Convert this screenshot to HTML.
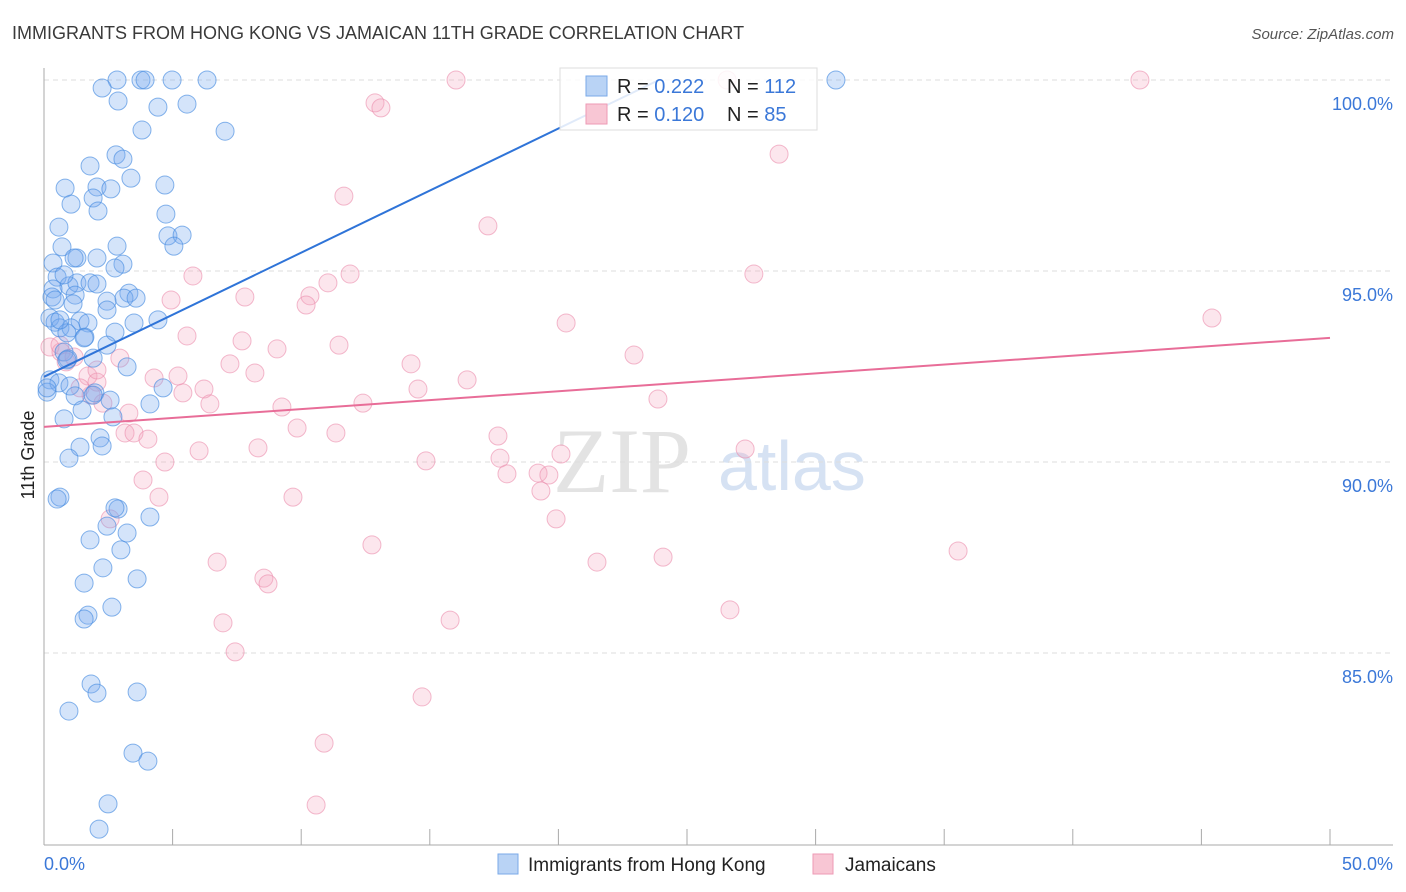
<!DOCTYPE html>
<html><head><meta charset="utf-8">
<style>
body{margin:0;background:#fff;font-family:"Liberation Sans",sans-serif;}
svg{display:block}
</style></head>
<body>
<svg id="chart" width="1406" height="892" viewBox="0 0 1406 892" xmlns="http://www.w3.org/2000/svg">
<text x="12" y="39" font-size="18" fill="#3a3a3a" font-family="Liberation Sans, sans-serif">IMMIGRANTS FROM HONG KONG VS JAMAICAN 11TH GRADE CORRELATION CHART</text>
<text x="1394" y="39" font-size="15" fill="#555" font-style="italic" text-anchor="end">Source: ZipAtlas.com</text>
<text x="553" y="492" font-size="92" fill="#d8d8d8" font-family="Liberation Serif, serif" opacity="0.7">ZIP</text>
<text x="718" y="490" font-size="70" fill="#c5d6ef" opacity="0.7">atlas</text>
<g id="grid"></g>
<g id="axes"></g>
<g id="pinkPts"></g>
<g id="bluePts"></g>
<g id="lines"></g>
<text transform="translate(34,455) rotate(-90)" font-size="18" fill="#222" text-anchor="middle">11th Grade</text>
<g>
<rect x="560" y="68" width="257" height="62" fill="#fff" fill-opacity="0.85" stroke="#ddd"/>
<rect x="586" y="76" width="21" height="20" fill="#b9d3f5" stroke="#7aa9e8"/>
<rect x="586" y="104" width="21" height="20" fill="#f8c6d4" stroke="#ee9ab5"/>
<text x="617" y="93" font-size="20" fill="#222">R = <tspan fill="#3b78d8">0.222</tspan></text>
<text x="727" y="93" font-size="20" fill="#222">N = <tspan fill="#3b78d8">112</tspan></text>
<text x="617" y="121" font-size="20" fill="#222">R = <tspan fill="#3b78d8"> 0.120</tspan></text>
<text x="727" y="121" font-size="20" fill="#222">N = <tspan fill="#3b78d8"> 85</tspan></text>
</g>
<g>
<rect x="498" y="854" width="20" height="20" fill="#b9d3f5" stroke="#7aa9e8"/>
<text x="528" y="871" font-size="19" fill="#222">Immigrants from Hong Kong</text>
<rect x="813" y="854" width="20" height="20" fill="#f8c6d4" stroke="#ee9ab5"/>
<text x="845" y="871" font-size="19" fill="#222">Jamaicans</text>
</g>
</svg>
<script>
const yTicks=[100,95,90,85];
const yTickLabels=["100.0%","95.0%","90.0%","85.0%"];
const xTickLabels=["0.0%","50.0%"];
const blueX=[2.84,3.77,3.93,4.98,6.34,30.79,2.26,2.88,4.43,5.56,3.81,7.04,2.80,3.07,1.79,3.38,0.82,2.06,2.60,4.70,1.91,1.05,2.10,4.74,0.58,4.82,5.37,2.84,0.70,5.05,0.35,1.28,1.17,3.07,2.76,0.51,0.97,0.35,1.28,1.79,2.06,3.30,0.31,1.21,3.11,3.58,2.45,1.13,2.45,0.23,0.43,1.40,0.62,1.05,0.89,1.71,3.50,4.43,2.76,1.59,2.45,0.78,0.93,1.91,3.23,0.23,0.58,0.12,1.01,4.63,1.21,1.98,2.57,4.12,1.48,0.78,2.68,2.18,2.26,1.40,0.97,0.62,0.51,4.12,2.88,2.76,2.45,1.79,3.23,2.99,2.29,3.62,1.56,2.64,1.71,1.56,1.83,2.06,3.62,0.97,3.46,4.04,2.49,2.14,0.12,0.43,2.06,1.91,0.89,0.62,1.56,0.78];
const blueY=[100,100,100,100,100,100,99.79,99.45,99.29,99.37,98.69,98.66,98.04,97.93,97.75,97.43,97.17,97.20,97.15,97.25,96.91,96.75,96.57,96.49,96.15,95.92,95.94,95.65,95.63,95.65,95.21,95.34,95.34,95.18,95.08,94.84,94.61,94.53,94.69,94.69,94.66,94.42,94.32,94.37,94.29,94.29,94.21,94.14,93.98,93.77,93.66,93.69,93.51,93.51,93.38,93.64,93.64,93.72,93.40,93.27,93.06,92.88,92.70,92.72,92.49,92.15,92.07,91.83,91.99,91.94,91.73,91.81,91.62,91.52,91.36,91.13,91.18,90.63,90.42,90.39,90.10,89.08,89.03,88.56,88.77,88.80,88.32,87.96,88.14,87.70,87.23,86.94,86.83,86.20,85.99,85.89,84.19,83.95,83.98,83.48,82.38,82.17,81.05,80.39,91.94,94.24,95.34,91.75,92.67,93.72,93.25,94.90];
const pinkX=[16.02,42.61,26.56,12.87,13.10,28.58,11.66,17.26,5.79,11.90,27.60,11.04,10.34,7.81,4.94,10.19,45.41,20.30,5.56,7.70,11.47,9.06,0.23,0.66,2.95,0.86,14.27,22.94,7.23,8.20,5.21,4.28,16.45,1.71,2.06,1.83,6.22,5.40,2.29,14.54,23.87,6.45,9.25,12.40,3.30,9.84,3.15,3.50,4.04,11.35,17.65,27.26,6.03,8.32,14.85,17.73,4.70,20.10,18.00,19.21,19.63,19.32,3.85,4.47,9.68,2.57,19.91,12.75,35.54,21.50,24.07,6.73,8.55,8.71,26.67,15.79,6.96,7.43,14.70,10.89,10.58,0.62,1.17,2.06,1.40];
const pinkY=[100,100,100,99.40,99.27,98.06,96.96,96.18,94.87,94.92,94.92,94.69,94.35,94.32,94.24,94.11,93.77,93.64,93.30,93.17,93.06,92.96,93.01,92.88,92.72,92.62,92.57,92.80,92.57,92.33,92.25,92.20,92.15,92.25,92.09,91.75,91.91,91.81,91.54,91.91,91.65,91.52,91.44,91.54,91.28,90.89,90.76,90.76,90.60,90.76,90.68,90.34,90.29,90.37,90.03,90.10,90.00,90.21,89.69,89.71,89.66,89.24,89.53,89.08,89.08,88.51,88.51,87.83,87.67,87.38,87.51,87.38,86.96,86.81,86.13,85.86,85.79,85.03,83.85,82.64,81.02,93.06,92.75,92.41,91.94];
const blueTrend=[92.23,0.325];
const pinkTrend=[90.92,0.0466];

const NS="http://www.w3.org/2000/svg";
const X0=44,X1=1330,XMAX=50,YTOP=80,PXPER=38.2;
function sx(v){return X0+(v/XMAX)*(X1-X0);}
function sy(v){return YTOP+(100-v)*PXPER;}
function mk(tag,attrs,parent){const e=document.createElementNS(NS,tag);for(const k in attrs)e.setAttribute(k,attrs[k]);parent.appendChild(e);return e;}
const grid=document.getElementById('grid');
yTicks.forEach((t,i)=>{
  const l=mk('line',{x1:X0,x2:1393,y1:sy(t),y2:sy(t),stroke:'#ddd','stroke-dasharray':'5,4'},grid);
  
  
  const tx=mk('text',{x:1393,y:sy(t)+30,'font-size':18,fill:'#3b78d8','text-anchor':'end'},grid);
  tx.textContent=yTickLabels[i];
  
  
});
const axes=document.getElementById('axes');
mk('line',{x1:X0,x2:X0,y1:68,y2:845,stroke:'#aaa'},axes);
mk('line',{x1:X0,x2:1393,y1:845,y2:845,stroke:'#aaa'},axes);
for(let i=0;i<=10;i++){
  const t=mk('line',{x1:sx(i*5),x2:sx(i*5),y1:829,y2:845,stroke:'#aaa'},axes);
  
  
}
const xl0=mk('text',{x:44,y:870,'font-size':18,fill:'#3b78d8'},axes);xl0.textContent=xTickLabels[0];


const xl1=mk('text',{x:1393,y:870,'font-size':18,fill:'#3b78d8','text-anchor':'end'},axes);xl1.textContent=xTickLabels[1];


function pts(xs,ys,g,fill,stroke,name){
  xs.forEach((x,i)=>{
    const c=mk('circle',{cx:sx(x),cy:sy(ys[i]),r:9,fill:fill,stroke:stroke,'stroke-width':1},g);
    
    
  });
}
pts(pinkX,pinkY,document.getElementById('pinkPts'),'rgba(244,165,192,0.28)','rgba(235,140,172,0.6)','jamaicans-point');
pts(blueX,blueY,document.getElementById('bluePts'),'rgba(120,172,238,0.32)','rgba(70,140,225,0.65)','hong-kong-point');
const lines=document.getElementById('lines');
const bEnd=(100-blueTrend[0])/blueTrend[1];
const bl=mk('line',{x1:sx(0),y1:sy(blueTrend[0]),x2:sx(bEnd),y2:sy(100),stroke:'#2f74d8','stroke-width':2},lines);


const pl=mk('line',{x1:sx(0),y1:sy(pinkTrend[0]),x2:sx(50),y2:sy(pinkTrend[0]+pinkTrend[1]*50),stroke:'#e86d98','stroke-width':2},lines);


</script>
</body></html>
